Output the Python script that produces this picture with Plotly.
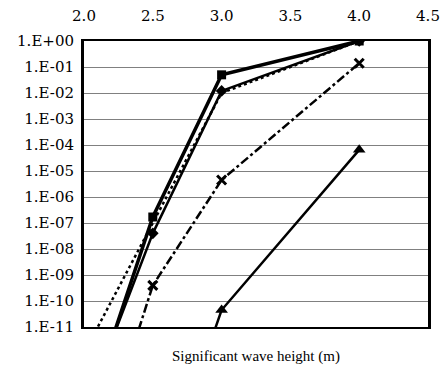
import plotly.graph_objects as go

x_vals = [2.0, 2.5, 3.0, 4.0]
s_square = [2e-15, 1.7e-07, 5e-02, 1.0]
s_diamond = [5e-15, 4e-08, 1.2e-02, 1.0]
s_dotted = [1e-12, 1e-07, 1e-02, 1.0]
s_cross = [2e-18, 4e-10, 4.5e-06, 1.4e-01]
s_tri = [1e-20, 1e-18, 4.5e-11, 6.5e-05]

y_tick_vals = [10.0 ** (-k) for k in range(0, 12)]
y_tick_text = ["1.E+00"] + ["1.E-%02d" % k for k in range(1, 12)]
x_tick_vals = [2.0, 2.5, 3.0, 3.5, 4.0, 4.5]
x_tick_text = ["2.0", "2.5", "3.0", "3.5", "4.0", "4.5"]

fig = go.Figure()
fig.add_trace(go.Scatter(x=x_vals, y=s_dotted, mode="lines",
                         line=dict(color="black", width=2.5, dash="dot")))
fig.add_trace(go.Scatter(x=x_vals, y=s_diamond, mode="lines+markers",
                         line=dict(color="black", width=2.5),
                         marker=dict(symbol="diamond", size=9, color="black")))
fig.add_trace(go.Scatter(x=x_vals, y=s_square, mode="lines+markers",
                         line=dict(color="black", width=3.5),
                         marker=dict(symbol="square", size=9, color="black")))
fig.add_trace(go.Scatter(x=x_vals, y=s_cross, mode="lines+markers",
                         line=dict(color="black", width=2.5, dash="dashdot"),
                         marker=dict(symbol="x-thin", size=9, color="black",
                                     line=dict(width=3, color="black"))))
fig.add_trace(go.Scatter(x=x_vals, y=s_tri, mode="lines+markers",
                         line=dict(color="black", width=2.5),
                         marker=dict(symbol="triangle-up", size=11, color="black")))

tick_font = "DejaVu Serif, serif"
title_font = "Liberation Serif, Times New Roman, serif"
fig.update_layout(
    width=440, height=372,
    margin=dict(l=84, r=12, t=41, b=45, autoexpand=False),
    paper_bgcolor="white", plot_bgcolor="white",
    showlegend=False,
    font=dict(family=tick_font, size=15, color="black"),
    xaxis=dict(side="top", range=[2.0, 4.5], tickvals=x_tick_vals, ticktext=x_tick_text,
               showgrid=False, zeroline=False, showline=True, linecolor="black",
               linewidth=2, mirror=True, ticks="", automargin=False,
               ticklabelstandoff=12, tickfont=dict(size=15, family=tick_font)),
    yaxis=dict(type="log", range=[-11, 0], tickvals=y_tick_vals, ticktext=y_tick_text,
               showgrid=True, gridcolor="#808080", gridwidth=1, zeroline=False,
               showline=True, linecolor="black", linewidth=3, mirror=True,
               ticks="", automargin=False, ticklabelstandoff=4,
               tickfont=dict(size=15, family=tick_font)),
    annotations=[dict(text="Significant wave height (m)", xref="paper", yref="paper",
                      x=0.5, y=-0.065, xanchor="center", yanchor="top",
                      showarrow=False, font=dict(size=15, family=title_font))],
)
fig.write_html("out.html")
